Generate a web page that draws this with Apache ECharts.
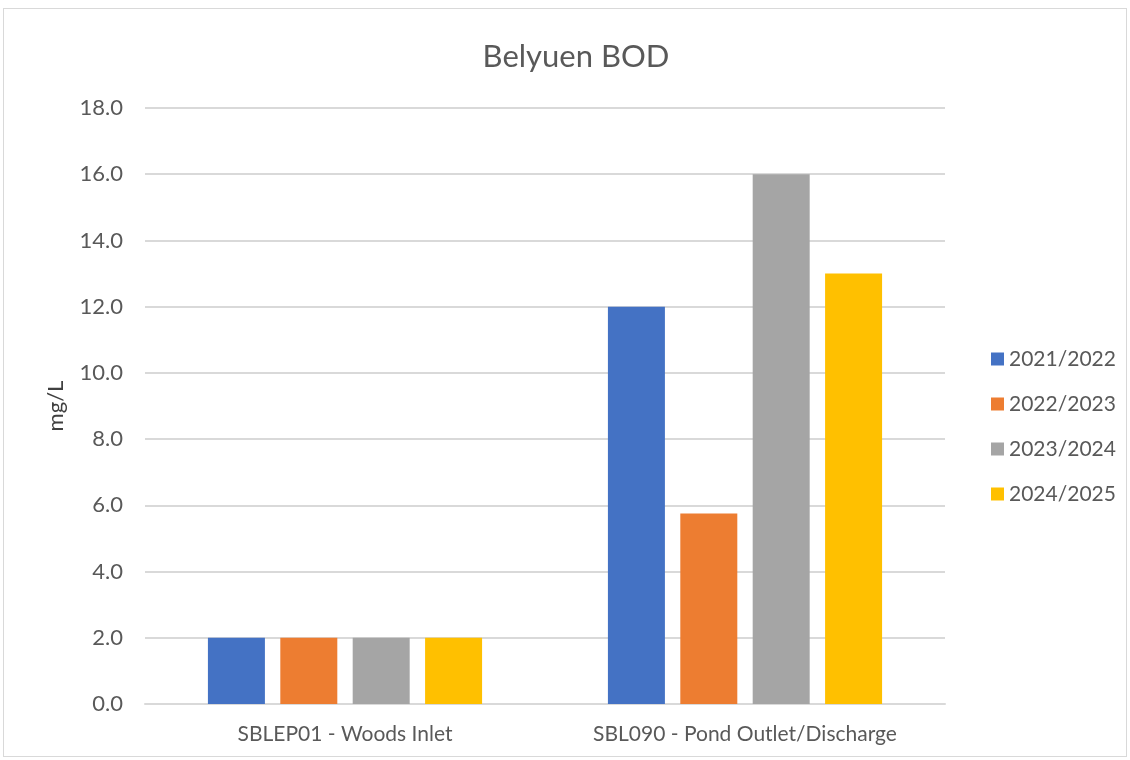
<!DOCTYPE html>
<html>
<head>
<meta charset="utf-8">
<script src="https://cdn.jsdelivr.net/npm/echarts@6/dist/echarts.min.js"></script>
<style>
  html, body { margin: 0; padding: 0; background: #fff; }
  #frame { position: absolute; left: 3px; top: 8px; width: 1124px; height: 749px; border: 1px solid #d9d9d9; box-sizing: border-box; }
  #chart { width: 1130px; height: 760px; }
</style>
</head>
<body>
<div id="frame"></div>
<div id="chart"></div>
<script>
// sites on the x axis
var sites = ['SBLEP01 - Woods Inlet', 'SBL090 - Pond Outlet/Discharge'];
// one series per financial year
var years = ['2021/2022', '2022/2023', '2023/2024', '2024/2025'];
var bod_2021 = [2.0, 12.0];
var bod_2022 = [2.0, 5.75];
var bod_2023 = [2.0, 16.0];
var bod_2024 = [2.0, 13.0];
var colors = ['#4472c4', '#ed7d31', '#a5a5a5', '#ffc000'];

var font = 'Lato, "Open Sans", sans-serif';
var values = [bod_2021, bod_2022, bod_2023, bod_2024];

var series = years.map(function(y, i) {
    return {
        name: y,
        type: 'bar',
        data: values[i],
        barWidth: 57,
        barGap: '27%',
        itemStyle: { color: colors[i] }
    };
});

var chart = echarts.init(document.getElementById('chart'));
chart.setOption({
    animation: false,
    color: colors,
    title: {
        text: 'Belyuen BOD',
        left: 571,
        textAlign: 'center',
        top: 36,
        textStyle: { fontFamily: font, fontSize: 31, fontWeight: 'normal', color: '#595959' }
    },
    grid: { left: 145, right: 185, top: 108, bottom: 56 },
    legend: {
        orient: 'vertical',
        left: 986,
        top: 343,
        itemWidth: 13,
        itemHeight: 13,
        itemGap: 23,
        icon: 'rect',
        textStyle: { fontFamily: font, fontSize: 21, color: '#595959', lineHeight: 22 },
        data: years
    },
    xAxis: {
        type: 'category',
        data: sites,
        axisTick: { show: false },
        axisLine: { lineStyle: { color: '#d9d9d9', width: 2 } },
        axisLabel: { fontFamily: font, fontSize: 21, color: '#595959', margin: 20 }
    },
    yAxis: {
        type: 'value',
        min: 0,
        max: 18,
        interval: 2,
        name: 'mg/L',
        nameLocation: 'middle',
        nameGap: 78,
        nameTextStyle: { fontFamily: font, fontSize: 22, color: '#404040' },
        axisLabel: {
            fontFamily: font, fontSize: 22, color: '#595959', margin: 22,
            formatter: function(v) { return v.toFixed(1); }
        },
        splitLine: { lineStyle: { color: '#d9d9d9', width: 2 } }
    },
    series: series
});
</script>
</body>
</html>
